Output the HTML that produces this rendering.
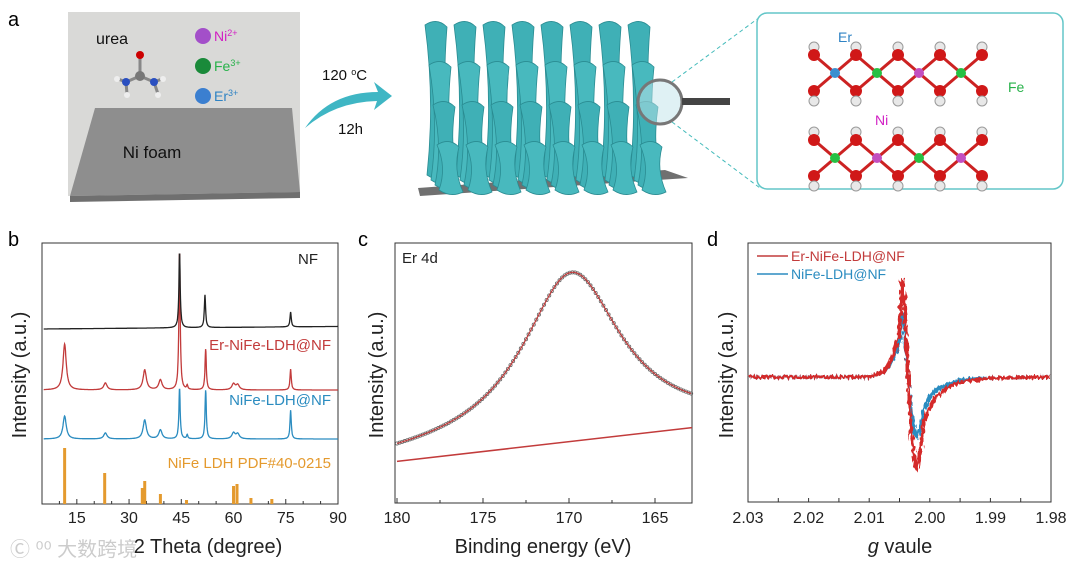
<!DOCTYPE html>
<html><head><meta charset="utf-8"><style>
html,body{margin:0;padding:0;background:#fff;}
svg{display:block;font-family:"Liberation Sans",Arial,sans-serif;}
</style></head><body>
<svg id="fig" width="1080" height="569" viewBox="0 0 1080 569" xmlns="http://www.w3.org/2000/svg">
<defs>
<filter id="noisy" x="-5%" y="-20%" width="110%" height="140%">
<feTurbulence type="fractalNoise" baseFrequency="0.5 0.2" numOctaves="1" seed="3" result="n"/>
<feDisplacementMap in="SourceGraphic" in2="n" scale="7" xChannelSelector="R" yChannelSelector="G"/>
</filter>
</defs>
<!-- panel a -->
<g>
<text x="8" y="26" font-size="20">a</text>
<polygon points="68,12 300,12 300,196 68,196" fill="#d9d9d7"/>
<polygon points="95,108 292,108 300,192 70,196" fill="#8e8e8e"/>
<polygon points="70,196 300,192 300,198 70,202" fill="#6f6f6f"/>
<text x="152" y="158" font-size="17" text-anchor="middle" fill="#111">Ni foam</text>
<text x="96" y="44" font-size="16" fill="#111">urea</text>
<g stroke="#888" stroke-width="3">
<line x1="140" y1="56" x2="140" y2="76"/><line x1="140" y1="76" x2="126" y2="82"/><line x1="140" y1="76" x2="154" y2="82"/>
<line x1="126" y1="82" x2="118" y2="79"/><line x1="126" y1="82" x2="127" y2="94"/><line x1="154" y1="82" x2="158" y2="94"/><line x1="154" y1="82" x2="162" y2="79"/>
</g>
<circle cx="140" cy="55" r="4" fill="#c00"/><circle cx="140" cy="76" r="5" fill="#777"/><circle cx="126" cy="82" r="4" fill="#2a4fc0"/><circle cx="154" cy="82" r="4" fill="#2a4fc0"/>
<circle cx="117" cy="79" r="3" fill="#eee"/><circle cx="127" cy="95" r="3" fill="#eee"/><circle cx="158" cy="95" r="3" fill="#eee"/><circle cx="163" cy="79" r="3" fill="#eee"/>
<circle cx="203" cy="36" r="8" fill="#a34fc9"/>
<text x="214" y="41" font-size="14" fill="#d21fc4">Ni<tspan dy="-5" font-size="9">2+</tspan></text>
<circle cx="203" cy="66" r="8" fill="#1a8a3a"/>
<text x="214" y="71" font-size="14" fill="#27b24a">Fe<tspan dy="-5" font-size="9">3+</tspan></text>
<circle cx="203" cy="96" r="8" fill="#3b7fd0"/>
<text x="214" y="101" font-size="14" fill="#2f83c4">Er<tspan dy="-5" font-size="9">3+</tspan></text>
<path d="M305,128 Q330,92 378,92 L374,82 L392,96 L374,110 L377,101 Q335,102 305,128 Z" fill="#3fb6c4"/>
<text x="322" y="80" font-size="15" fill="#111">120 <tspan dy="-5" font-size="9">o</tspan><tspan dy="5">C</tspan></text>
<text x="338" y="134" font-size="15" fill="#111">12h</text>
<polygon points="418,188 665,170 688,178 420,196" fill="#707070"/>
<g id="sheets"></g>
<circle cx="660" cy="102" r="22" fill="#bfe3ea" fill-opacity="0.5" stroke="#777" stroke-width="3"/>
<rect x="682" y="98" width="48" height="7" fill="#444"/>
<line x1="672" y1="82" x2="760" y2="17" stroke="#4bb" stroke-dasharray="4,3"/>
<line x1="672" y1="122" x2="760" y2="188" stroke="#4bb" stroke-dasharray="4,3"/>
<rect x="757" y="13" width="306" height="176" rx="10" fill="#fff" stroke="#63c6c8" stroke-width="1.5"/>
<g id="atoms"></g>
<text x="838" y="42" font-size="14" fill="#2f83c4">Er</text>
<text x="1008" y="92" font-size="14" fill="#27b24a">Fe</text>
<text x="875" y="125" font-size="14" fill="#d21fc4">Ni</text>
</g>
<text x="8" y="246" font-size="20">b</text>
<text x="358" y="246" font-size="20">c</text>
<text x="707" y="246" font-size="20">d</text>
<g id="pb"></g>
<g id="pc"></g>
<g id="pd"></g>
<text x="10" y="556" font-size="20" fill="#ccc" font-family="'Liberation Sans','Noto Sans CJK SC',sans-serif">Ⓒ ⁰⁰ 大数跨境</text>
</svg>
<script>
// ---------- XRD data (panel b) ----------
const xrdTicks=[15,30,45,60,75,90];
const nfPeaks=[[44.5,76],[51.8,33],[76.4,15]];
const erPeaks=[[11.5,46],[23.2,7],[34.5,20],[39,10],[44.5,140],[46.7,4],[52,41],[60,6],[61.2,5],[76.4,21]];
const niPeaks=[[11.5,23],[23.2,6],[34.5,19],[39,9],[44.5,51],[46.7,4],[52,49],[60,6],[61.2,5],[76.4,29]];
const refPos=[11.5,23,33.8,34.5,39,46.5,60,61,65,71];
const refInt=[56,31,16,23,10,4,18,20,6,5];
const seriesOffsets=[175,114,65];
// ---------- XPS data (panel c) ----------
const xpsTicks=[180,175,170,165];
const xpsPeak=[169.85,65,3.5];
const xpsBaseline=[16,29];
// ---------- EPR data (panel d) ----------
const eprTicks=[2.03,2.02,2.01,2.00,1.99,1.98];
const eprG=[2.03,2.02,2.01,2.008,2.007,2.006,2.005,2.0046,2.0042,2.0036,2.003,2.0024,2.0021,2.0015,2.001,2.000,1.999,1.997,1.995,1.99,1.98];
const eprEr=[0,0,0,4,10,22,45,97,80,0,-60,-90,-93,-70,-45,-30,-20,-10,-5,-1,0];
const eprNi=[0,0,0,4,9,18,35,64,55,0,-40,-58,-61,-48,-32,-20,-13,-7,-3,-1,0];

const NS="http://www.w3.org/2000/svg";
function mk(p,t,a){const e=document.createElementNS(NS,t);for(const k in a)e.setAttribute(k,a[k]);p.appendChild(e);return e;}
function txt(p,x,y,s,a){const e=mk(p,'text',Object.assign({x:x,y:y,'font-size':16,fill:'#222'},a||{}));e.textContent=s;return e;}

// nanosheets
(function(){const g=document.getElementById('sheets');
for(let r=0;r<4;r++)for(let c=0;c<8;c++){const x=425+c*29+r*4,y=25+r*40,h=150-r*35;
const e=mk(g,'path',{d:`M${x},${y} q12,-8 22,2 q-6,${h/2} 4,${h} q-12,6 -24,-2 q8,${-h/2} -2,${-h} z`,fill:r%2?'#48b9be':'#3fb0b6',stroke:'#2a8c92','stroke-width':0.8});
}})();
// atoms
(function(){const g=document.getElementById('atoms');
const rows=[[55,true],[140,false]];
rows.forEach(([y0,top])=>{
 const metals=top?['#3b8fd0','#27c043','#c34fc0','#27c043']:['#27c043','#c34fc0','#27c043','#c34fc0'];
 for(let i=0;i<4;i++){const mx=835+i*42,my=y0+18;
  mk(g,'line',{x1:mx-21,y1:my-18,x2:mx+21,y2:my+18,stroke:'#c22','stroke-width':3});
  mk(g,'line',{x1:mx-21,y1:my+18,x2:mx+21,y2:my-18,stroke:'#c22','stroke-width':3});}
 for(let i=0;i<5;i++){const ox=814+i*42;
  mk(g,'circle',{cx:ox,cy:y0-8,r:5,fill:'#e8e8e8',stroke:'#999'});
  mk(g,'circle',{cx:ox,cy:y0,r:6,fill:'#d01818'});
  mk(g,'circle',{cx:ox,cy:y0+36,r:6,fill:'#d01818'});
  mk(g,'circle',{cx:ox,cy:y0+46,r:5,fill:'#e8e8e8',stroke:'#999'});}
 metals.forEach((c,i)=>mk(g,'circle',{cx:835+i*42,cy:y0+18,r:5,fill:c}));
});})();

function axesBox(g,x0,y0,x1,y1){const e=mk(g,'rect',{x:x0,y:y0,width:x1-x0,height:y1-y0,fill:'none',stroke:'#333','stroke-width':1});}
function pathFrom(pts){return 'M'+pts.map(p=>p[0].toFixed(1)+','+p[1].toFixed(1)).join('L');}

// ---------- panel b ----------
(function(){const g=document.getElementById('pb');
const X0=42,X1=338,Y0=243,Y1=504;
const sx=v=>X0+(v-5)/(90-5)*(X1-X0), sy=v=>Y1-v;
axesBox(g,X0,Y0,X1,Y1);
for(let v=10;v<=85;v+=5){const big=v%15===0;mk(g,'line',{x1:sx(v),y1:Y1,x2:sx(v),y2:Y1-(big?5:3),stroke:'#333'});}
xrdTicks.forEach(v=>{const t=txt(g,sx(v),523,String(v),{'text-anchor':'middle'});});
const xl=txt(g,208,553,'2 Theta (degree)',{'text-anchor':'middle','font-size':20});
const yl=txt(g,0,0,'Intensity (a.u.)',{'text-anchor':'middle','font-size':20,transform:'translate(26,375) rotate(-90)'});
refPos.forEach((p,i)=>{const r=mk(g,'rect',{x:sx(p)-1.5,y:sy(refInt[i]),width:3,height:refInt[i],fill:'#e49a2e'});});
const sets=[[nfPeaks,'#222',0.22,'nf-curve'],[erPeaks,'#c23b3b',0.35,'er-nife-curve'],[niPeaks,'#2b8cc0',0.35,'nife-curve']];
const order=[2,1,0];
order.forEach(k=>{const [pk,col,w,name]=sets[k];const off=seriesOffsets[k];const pts=[];
 for(let t=5.5;t<=90;t+=0.08){let v=off+(k===0?(t-5)*0.03:0);pk.forEach(([c,a])=>{const ww=(c>44&&c<53)||c>75?0.22:w*1.6;v+=a/(1+((t-c)/ww)**2);});pts.push([sx(t),sy(v)]);}
 const p=mk(g,'path',{d:pathFrom(pts),fill:'none',stroke:col,'stroke-width':1.3});});
let t;t=txt(g,318,264,'NF',{'text-anchor':'end','font-size':15});
t=txt(g,331,350,'Er-NiFe-LDH@NF',{'text-anchor':'end','font-size':15,fill:'#c23b3b'});
t=txt(g,331,405,'NiFe-LDH@NF',{'text-anchor':'end','font-size':15,fill:'#2b8cc0'});
t=txt(g,331,468,'NiFe LDH PDF#40-0215',{'text-anchor':'end','font-size':15,fill:'#e49a2e'});
})();

// ---------- panel c ----------
(function(){const g=document.getElementById('pc');
const X0=395,X1=692,Y0=243,Y1=503;
const sx=v=>X0+2+(180-v)*17.2, sy=v=>Y1-v*2.6;
axesBox(g,X0,Y0,X1,Y1);
for(let v=180;v>=163;v-=2.5){const big=v%5===0;mk(g,'line',{x1:sx(v),y1:Y1,x2:sx(v),y2:Y1-(big?5:3),stroke:'#333'});}
xpsTicks.forEach(v=>{const t=txt(g,sx(v),523,String(v),{'text-anchor':'middle'});});
let t=txt(g,543,553,'Binding energy (eV)',{'text-anchor':'middle','font-size':20});
t=txt(g,0,0,'Intensity (a.u.)',{'text-anchor':'middle','font-size':20,transform:'translate(383,375) rotate(-90)'});
t=txt(g,402,263,'Er 4d',{'font-size':15});
const lo=180,hi=162.85;const base=v=>xpsBaseline[0]+(lo-v)/(lo-hi)*(xpsBaseline[1]-xpsBaseline[0]);
const bl=mk(g,'line',{x1:sx(lo),y1:sy(base(lo)),x2:sx(hi),y2:sy(base(hi)),stroke:'#c23b3b','stroke-width':1.5});
const f=v=>base(v)+xpsPeak[1]/(1+((v-xpsPeak[0])/xpsPeak[2])**2);
const dg=mk(g,'g',{});
for(let v=lo;v>=hi;v-=0.15){mk(dg,'circle',{cx:sx(v),cy:sy(f(v)),r:1.6,fill:'none',stroke:'#666','stroke-width':0.8});}
const pts=[];for(let v=lo;v>=hi;v-=0.05)pts.push([sx(v),sy(f(v))]);
const p=mk(g,'path',{d:pathFrom(pts),fill:'none',stroke:'#c23b3b','stroke-width':1.2});
})();

// ---------- panel d ----------
(function(){const g=document.getElementById('pd');
const X0=748,X1=1051,Y0=243,Y1=502,base=377;
const sx=v=>X0+(2.03-v)/(0.05)*(X1-X0), sy=v=>base-v;
axesBox(g,X0,Y0,X1,Y1);
for(let v=2.025;v>1.98;v-=0.005){mk(g,'line',{x1:sx(v),y1:Y1,x2:sx(v),y2:Y1-4,stroke:'#333'});}
eprTicks.forEach(v=>{const t=txt(g,sx(v),523,v.toFixed(2),{'text-anchor':'middle'});});
let t=mk(g,'text',{x:900,y:553,'font-size':20,'text-anchor':'middle',fill:'#222'});t.innerHTML='<tspan font-style="italic">g</tspan> vaule';
t=txt(g,0,0,'Intensity (a.u.)',{'text-anchor':'middle','font-size':20,transform:'translate(733,375) rotate(-90)'});
[[eprNi,'#2b8cc0','nife-epr-curve'],[eprEr,'#d42a2a','er-nife-epr-curve']].forEach(([arr,col,name])=>{
 const pts=eprG.map((gv,i)=>[sx(gv),sy(arr[i])]);
 const p=mk(g,'path',{d:pathFrom(pts),fill:'none',stroke:col,'stroke-width':3.5,'stroke-linejoin':'round',filter:'url(#noisy)'});
 });
mk(g,'line',{x1:757,y1:256,x2:788,y2:256,stroke:'#c23b3b','stroke-width':1.5});
t=txt(g,791,261,'Er-NiFe-LDH@NF',{'font-size':14,fill:'#c23b3b'});
mk(g,'line',{x1:757,y1:274,x2:788,y2:274,stroke:'#2b8cc0','stroke-width':1.5});
t=txt(g,791,279,'NiFe-LDH@NF',{'font-size':14,fill:'#2b8cc0'});
})();
</script>
</body></html>
